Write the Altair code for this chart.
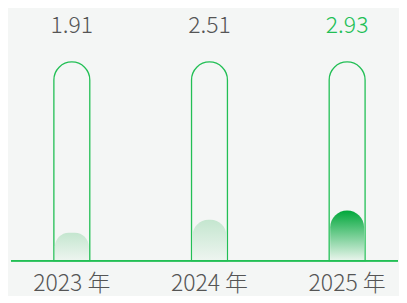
import altair as alt
import pandas as pd

years = ["2023 年", "2024 年", "2025 年"]
values = [1.91, 2.51, 2.93]
labels = ["1.91", "2.51", "2.93"]
highlight = [False, False, True]
scale_min = 0.64
capacity = 9.69

df = pd.DataFrame({"year": years, "value": values, "label": labels,
                   "hl": highlight, "cap": [capacity] * len(years)})

FONT = "Noto Sans CJK SC"
GREEN = "#22bf55"
GRAY = "#555555"
BG = "#f4f6f5"

x = alt.X("year:N", sort=years,
          scale=alt.Scale(type="point", range=[64, 340], padding=0),
          axis=None)
yscale = alt.Scale(domain=[scale_min, capacity], range=[253, 53.7], zero=False)
y2 = alt.Y2Datum(scale_min)

base = alt.Chart(df)

capsule = base.mark_bar(size=36, fill=BG, stroke=GREEN, strokeWidth=1.3,
                        cornerRadiusTopLeft=18, cornerRadiusTopRight=18).encode(
    x=x, y=alt.Y("cap:Q", scale=yscale, axis=None), y2=y2)

light_grad = alt.Gradient(gradient="linear", x1=0, x2=0, y1=0, y2=1,
                          stops=[alt.GradientStop(color="#c4e6cf", offset=0),
                                 alt.GradientStop(color="#eef5f0", offset=1)])
dark_grad = alt.Gradient(gradient="linear", x1=0, x2=0, y1=0, y2=1,
                         stops=[alt.GradientStop(color="#00a73a", offset=0),
                                alt.GradientStop(color="#eaf5ed", offset=1)])

fill_light = base.transform_filter("!datum.hl").mark_bar(
    size=34, color=light_grad, cornerRadiusTopLeft=16, cornerRadiusTopRight=16).encode(
    x=x, y=alt.Y("value:Q", scale=yscale, axis=None), y2=y2)
fill_dark = base.transform_filter("datum.hl").mark_bar(
    size=34, color=dark_grad, cornerRadiusTopLeft=17, cornerRadiusTopRight=17).encode(
    x=x, y=alt.Y("value:Q", scale=yscale, axis=None), y2=y2)

vals = base.mark_text(font=FONT, fontSize=23, fontWeight=300, baseline="alphabetic").encode(
    x=x, y=alt.value(25), text="label:N",
    color=alt.condition("datum.hl", alt.value(GREEN), alt.value(GRAY)))

year_text = base.mark_text(font=FONT, fontSize=23, fontWeight=300, baseline="alphabetic",
                           color=GRAY).encode(
    x=x, y=alt.value(283), text="year:N")

baseline = base.mark_rule(color=GREEN, strokeWidth=1.5).encode(
    x=alt.value(3), x2=alt.value(391), y=alt.value(253))

chart = alt.layer(capsule, fill_light, fill_dark, baseline, vals, year_text).properties(
    width=391, height=287, padding=0, background=BG
).configure_view(stroke=None)

chart.save("out.html", embed_options={"renderer": "svg", "actions": False})
